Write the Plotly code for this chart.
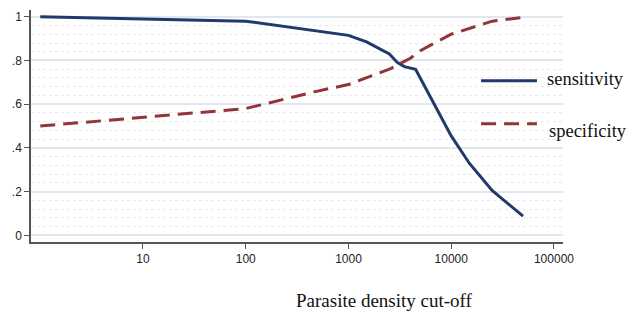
import plotly.graph_objects as go

# Data
sens_x = [1, 100, 1000, 1500, 2500, 3000, 3500, 4500, 10000, 15000, 25000, 50000]
sens_y = [1.0, 0.98, 0.915, 0.885, 0.83, 0.79, 0.772, 0.76, 0.455, 0.33, 0.205, 0.088]

spec_x = [1, 100, 500, 1000, 2500, 4000, 5000, 10000, 25000, 50000]
spec_y = [0.5, 0.58, 0.66, 0.69, 0.76, 0.81, 0.845, 0.92, 0.98, 0.997]

x_ticks = [10, 100, 1000, 10000, 100000]
x_ticklabels = ["10", "100", "1000", "10000", "100000"]
y_ticks = [0, 0.2, 0.4, 0.6, 0.8, 1]
y_ticklabels = ["0", ".2", ".4", ".6", ".8", "1"]

series_names = ["sensitivity", "specificity"]
NAVY = "#1f3a6b"
MAROON = "#923539"
DASH = "15px,8px"

fig = go.Figure()
fig.add_trace(go.Scatter(x=sens_x, y=sens_y, mode="lines", name=series_names[0],
                         line=dict(color=NAVY, width=3), showlegend=False))
fig.add_trace(go.Scatter(x=spec_x, y=spec_y, mode="lines", name=series_names[1],
                         line=dict(color=MAROON, width=3, dash=DASH), showlegend=False))

# Manual legend (longer line samples than plotly's default)
leg = [(0.707, NAVY, "solid", series_names[0], -2, 2),
       (0.510, MAROON, DASH, series_names[1], 0, -7)]
for yv, col, dash, name, xs, ys in leg:
    fig.add_shape(type="line", xref="paper", yref="y", x0=0.846, x1=0.951, y0=yv, y1=yv,
                  line=dict(color=col, width=3, dash=dash))
    fig.add_annotation(xref="paper", yref="y", x=0.97, y=yv, text=name, showarrow=False,
                       xanchor="left", yanchor="middle", xshift=xs, yshift=ys,
                       font=dict(family="Liberation Serif", size=18.5, color="#111"))

fig.add_annotation(xref="paper", yref="paper", x=0.665, y=0, yshift=-58,
                   text="Parasite density cut-off", showarrow=False,
                   xanchor="center", yanchor="middle",
                   font=dict(family="Liberation Serif", size=19, color="#111"))

fig.update_layout(
    width=637, height=316,
    margin=dict(l=31, r=74, t=10, b=74),
    paper_bgcolor="white", plot_bgcolor="white",
    font=dict(family="Liberation Sans", size=12, color="#222"),
    xaxis=dict(type="log", range=[-0.09, 5.088], tickvals=x_ticks, ticktext=x_ticklabels,
               showgrid=False, zeroline=False, showline=True, linecolor="#555", linewidth=1.5,
               ticks="outside", ticklen=5, tickcolor="#555", tickfont=dict(size=12)),
    yaxis=dict(range=[-0.0305, 1.031], tickvals=y_ticks, ticktext=y_ticklabels,
               showgrid=True, gridcolor="#e1e6f0", gridwidth=1.5, zeroline=False,
               showline=True, linecolor="#555", linewidth=1.5,
               ticks="outside", ticklen=5, tickcolor="#555", tickfont=dict(size=12),
               minor=dict(dtick=0.04, showgrid=True, gridcolor="#e6e9f0", griddash="dot",
                          gridwidth=1, ticks="")),
)

fig.write_html("out.html", config={"displayModeBar": False},
               post_script="document.body.style.margin='0';document.body.style.overflow='hidden';")
